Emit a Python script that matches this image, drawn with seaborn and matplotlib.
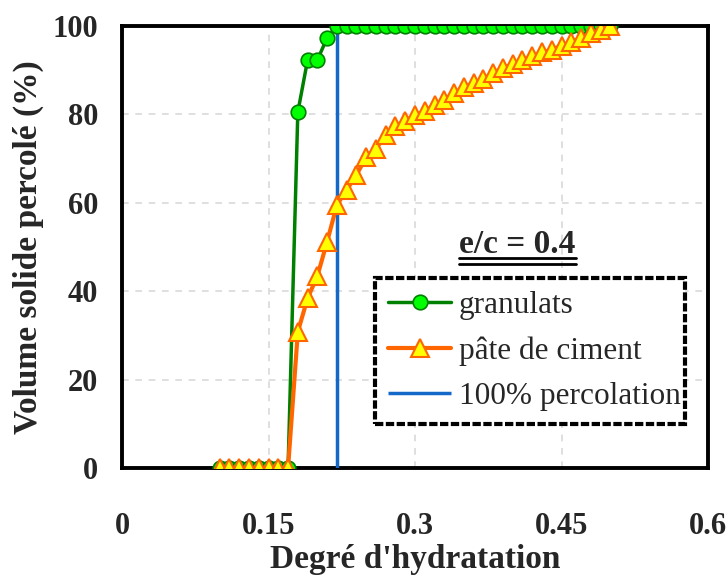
import numpy as np
import pandas as pd
import seaborn as sns
import matplotlib.pyplot as plt

# degree of hydration (x) and percolated solid volume (%) for e/c = 0.4
hydration = [0.10, 0.11, 0.12, 0.13, 0.14, 0.15, 0.16, 0.17, 0.18, 0.19,
             0.20, 0.21, 0.22, 0.23, 0.24, 0.25, 0.26, 0.27, 0.28, 0.29,
             0.30, 0.31, 0.32, 0.33, 0.34, 0.35, 0.36, 0.37, 0.38, 0.39,
             0.40, 0.41, 0.42, 0.43, 0.44, 0.45, 0.46, 0.47, 0.48, 0.49,
             0.50]
granulats = [0, 0, 0, 0, 0, 0, 0, 0, 80.5, 92.3,
             92.3, 97.3, 100, 100, 100, 100, 100, 100, 100, 100,
             100, 100, 100, 100, 100, 100, 100, 100, 100, 100,
             100, 100, 100, 100, 100, 100, 100, 100, 100, 100,
             100]
pate_ciment = [0, 0, 0, 0, 0, 0, 0, 0, 30.8, 38.4,
               43.4, 51.2, 59.5, 62.9, 66.3, 70.3, 72.2, 75.4, 77.3, 78.6,
               79.8, 80.7, 82.2, 83.3, 84.8, 86.1, 87.1, 87.9, 89.4, 90.4,
               91.4, 92.2, 93.1, 94.0, 94.6, 95.5, 96.3, 97.3, 98.3, 99.0,
               100]
percolation_x = 0.22

df = pd.DataFrame({'hydration': hydration, 'granulats': granulats,
                   'pate': pate_ciment})

sns.set_style('white')
plt.rcParams['font.family'] = ['Liberation Serif', 'DejaVu Serif']

fig = plt.figure(figsize=(7.28, 5.77), dpi=100)
ax = fig.add_axes([0.1676, 0.189, 0.805, 0.766])

# 100% percolation line
ax.vlines(percolation_x, 0, 100, color='#1469C8', lw=2.5, zorder=2,
          label='100% percolation')

sns.lineplot(data=df, x='hydration', y='granulats', ax=ax, color='#008000',
             lw=2.5, marker='o', markersize=10.5, markerfacecolor='#00FF00',
             markeredgecolor='#008000', markeredgewidth=1.2,
             label='granulats', zorder=3)
sns.lineplot(data=df, x='hydration', y='pate', ax=ax, color='#FF6600',
             lw=3, marker='^', markersize=13, markerfacecolor='#FFFF00',
             markeredgecolor='#FF6600', markeredgewidth=1.5,
             label='pâte de ciment', zorder=4)

ax.set_xlim(0, 0.6)
ax.set_ylim(0, 100)
ax.set_xticks([0, 0.15, 0.3, 0.45, 0.6])
ax.set_xticklabels(['0', '0.15', '0.3', '0.45', '0.6'])
ax.set_yticks([0, 20, 40, 60, 80, 100])
ax.grid(True, color='#D9D9D9', ls=(0, (4, 4)), lw=1.2)
ax.set_axisbelow(True)

for sp in ax.spines.values():
    sp.set_color('black')
    sp.set_linewidth(2.8)
    sp.set_zorder(1)

ax.tick_params(axis='x', direction='out', length=8, width=1.2, color='#555555',
               pad=24, labelsize=22)
ax.tick_params(axis='y', direction='out', length=8, width=1.2, color='#555555',
               pad=9, labelsize=22)
for lab in ax.get_xticklabels() + ax.get_yticklabels():
    lab.set_fontweight('bold')

ax.set_xlabel("Degré d'hydratation", fontsize=24, fontweight='bold', labelpad=2)
ax.set_ylabel('Volume solide percolé (%)', fontsize=24, fontweight='bold',
              labelpad=6)

handles, labels = ax.get_legend_handles_labels()
order = [labels.index(n) for n in ['granulats', 'pâte de ciment', '100% percolation']]
leg = ax.legend([handles[i] for i in order], [labels[i] for i in order],
                loc='upper left', bbox_to_anchor=(0.432, 0.10, 0.529, 0.33),
                mode='expand', borderaxespad=0, fontsize=22.5, frameon=True,
                fancybox=False, handlelength=2.0, handletextpad=0.25,
                labelspacing=0.52, borderpad=0.42)
frame = leg.get_frame()
frame.set_edgecolor('black')
frame.set_linewidth(3)
frame.set_linestyle((0, (2, 0.6)))
frame.set_alpha(1)

# annotation with double underline
txt = ax.text(0.675, 0.505, 'e/c = 0.4', transform=ax.transAxes, ha='center',
              va='center', fontsize=24, fontweight='bold')
fig.canvas.draw()
bb = txt.get_window_extent()
inv = ax.transAxes.inverted()
for off in (2, 8):
    (x0, y0), (x1, _) = inv.transform([(bb.x0, bb.y0 + 4 - off), (bb.x1, bb.y0)])
    ax.plot([x0, x1], [y0, y0], transform=ax.transAxes, color='black', lw=2,
            clip_on=False)

fig.savefig('out.png', dpi=100)
